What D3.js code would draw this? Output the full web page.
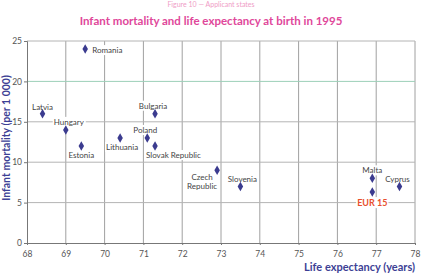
<!DOCTYPE html>
<html><head><meta charset="utf-8">
<script src="https://cdn.jsdelivr.net/npm/d3@7/dist/d3.min.js"></script>
<style>html,body{margin:0;padding:0;background:#fff;}svg{display:block;}</style>
</head><body>
<script>
const countries = ["Romania","Latvia","Hungary","Estonia","Lithuania","Poland","Bulgaria","Slovak Republic","Czech Republic","Slovenia","Malta","Cyprus","EUR 15"];
const lifeExpectancy = [69.5,68.4,69.0,69.4,70.4,71.1,71.3,71.3,72.9,73.5,76.9,77.6,76.9];
const infantMortality = [24,16,14,12,13,13,16,12,9,7,8,7,6.3];
const xTicks = [68,69,70,71,72,73,74,75,76,77,78];
const yTicks = [0,5,10,15,20,25];
// label placement: [dx, dy(baseline), anchor]
const labelPos = {
  "Romania":[7,4,"start"],
  "Latvia":[0,-4,"middle"],
  "Hungary":[3,-5,"middle"],
  "Estonia":[0,12,"middle"],
  "Lithuania":[2,12,"middle"],
  "Poland":[-2,-5,"middle"],
  "Bulgaria":[-2,-5,"middle"],
  "Slovak Republic":[-9,12,"start"],
  "Czech Republic":[-15,10,"middle"],
  "Slovenia":[2,-4,"middle"],
  "Malta":[0,-5,"middle"],
  "Cyprus":[-2,-4,"middle"],
  "EUR 15":[0,14,"middle"]
};

const W=421,H=274;
const svg=d3.select("body").append("svg").attr("width",W).attr("height",H);
const font="Lato, 'Open Sans', sans-serif";
const x=d3.scaleLinear().domain([68,78]).range([27,415]);
const y=d3.scaleLinear().domain([0,25]).range([243,41]);

svg.append("text").attr("x",211).attr("y",7).attr("text-anchor","middle")
  .attr("font-family",font).attr("font-size",7).attr("fill","#ef9cc6").text("Figure 10 — Applicant states");
svg.append("text").attr("x",211).attr("y",25).attr("text-anchor","middle")
  .attr("font-family",font).attr("font-weight","bold").attr("font-size",11.5).attr("fill","#e0479a")
  .text("Infant mortality and life expectancy at birth in 1995");

// grid
svg.append("g").selectAll("line").data(xTicks.slice(1)).join("line")
  .attr("x1",d=>x(d)).attr("x2",d=>x(d)).attr("y1",y(25)).attr("y2",y(0))
  .attr("stroke","#a0a0a0").attr("stroke-width",1);
svg.append("g").selectAll("line").data(yTicks.slice(1)).join("line")
  .attr("x1",x(68)).attr("x2",x(78)).attr("y1",d=>y(d)).attr("y2",d=>y(d))
  .attr("stroke",d=>d===20?"#9ccfb8":"#b4b4b4").attr("stroke-width",1);

// axes
const xa=svg.append("g").attr("transform",`translate(0,${y(0)})`)
  .call(d3.axisBottom(x).tickValues(xTicks).tickSize(2).tickFormat(d3.format("d")));
const ya=svg.append("g").attr("transform",`translate(${x(68)},0)`)
  .call(d3.axisLeft(y).tickValues(yTicks).tickSize(3).tickPadding(2).tickFormat(d3.format("d")));
[xa,ya].forEach(a=>{
  a.select(".domain").attr("stroke","#777");
  a.selectAll(".tick line").attr("stroke","#777");
  a.selectAll("text").attr("font-family",font).attr("font-size",8.5).attr("fill","#555");
});
xa.selectAll("text").attr("y",8).attr("dy","0.71em");

svg.append("text").attr("x",415).attr("y",271).attr("text-anchor","end")
  .attr("font-family",font).attr("font-weight","bold").attr("font-size",11).attr("fill","#3d3f95")
  .text("Life expectancy (years)");
svg.append("text").attr("transform","translate(10,138) rotate(-90)").attr("text-anchor","middle")
  .attr("font-family",font).attr("font-weight","bold").attr("font-size",10.5).attr("fill","#3d3f95")
  .text("Infant mortality (per 1 000)");

const data=countries.map((c,i)=>({c,lx:lifeExpectancy[i],im:infantMortality[i]}));
const bgG=svg.append("g");
const sym=d3.symbol().type(d3.symbolDiamond).size(26);
svg.append("g").selectAll("path").data(data).join("path")
  .attr("transform",d=>`translate(${x(d.lx)},${y(d.im)})`).attr("d",sym).attr("fill","#3b3b8f");

const lab=svg.append("g").selectAll("text").data(data).join("text")
  .attr("x",d=>x(d.lx)+labelPos[d.c][0]).attr("y",d=>y(d.im)+labelPos[d.c][1])
  .attr("text-anchor",d=>labelPos[d.c][2])
  .attr("font-family",font).attr("font-size",d=>d.c==="EUR 15"?9:8)
  .attr("font-weight",d=>d.c==="EUR 15"?"bold":"normal")
  .attr("fill",d=>d.c==="EUR 15"?"#e8502e":"#444");
lab.each(function(d){
  const t=d3.select(this);
  if(d.c==="Czech Republic"){
    const lx=x(d.lx)+labelPos[d.c][0];
    t.append("tspan").attr("x",lx).attr("dy",0).text("Czech");
    t.append("tspan").attr("x",lx).attr("dy",8.5).text("Republic");
  } else t.text(d.c);
  const b=this.getBBox();
  bgG.append("rect").attr("x",b.x-1).attr("y",b.y).attr("width",b.width+2).attr("height",b.height)
    .attr("fill","#fff");
});
</script>
</body></html>
